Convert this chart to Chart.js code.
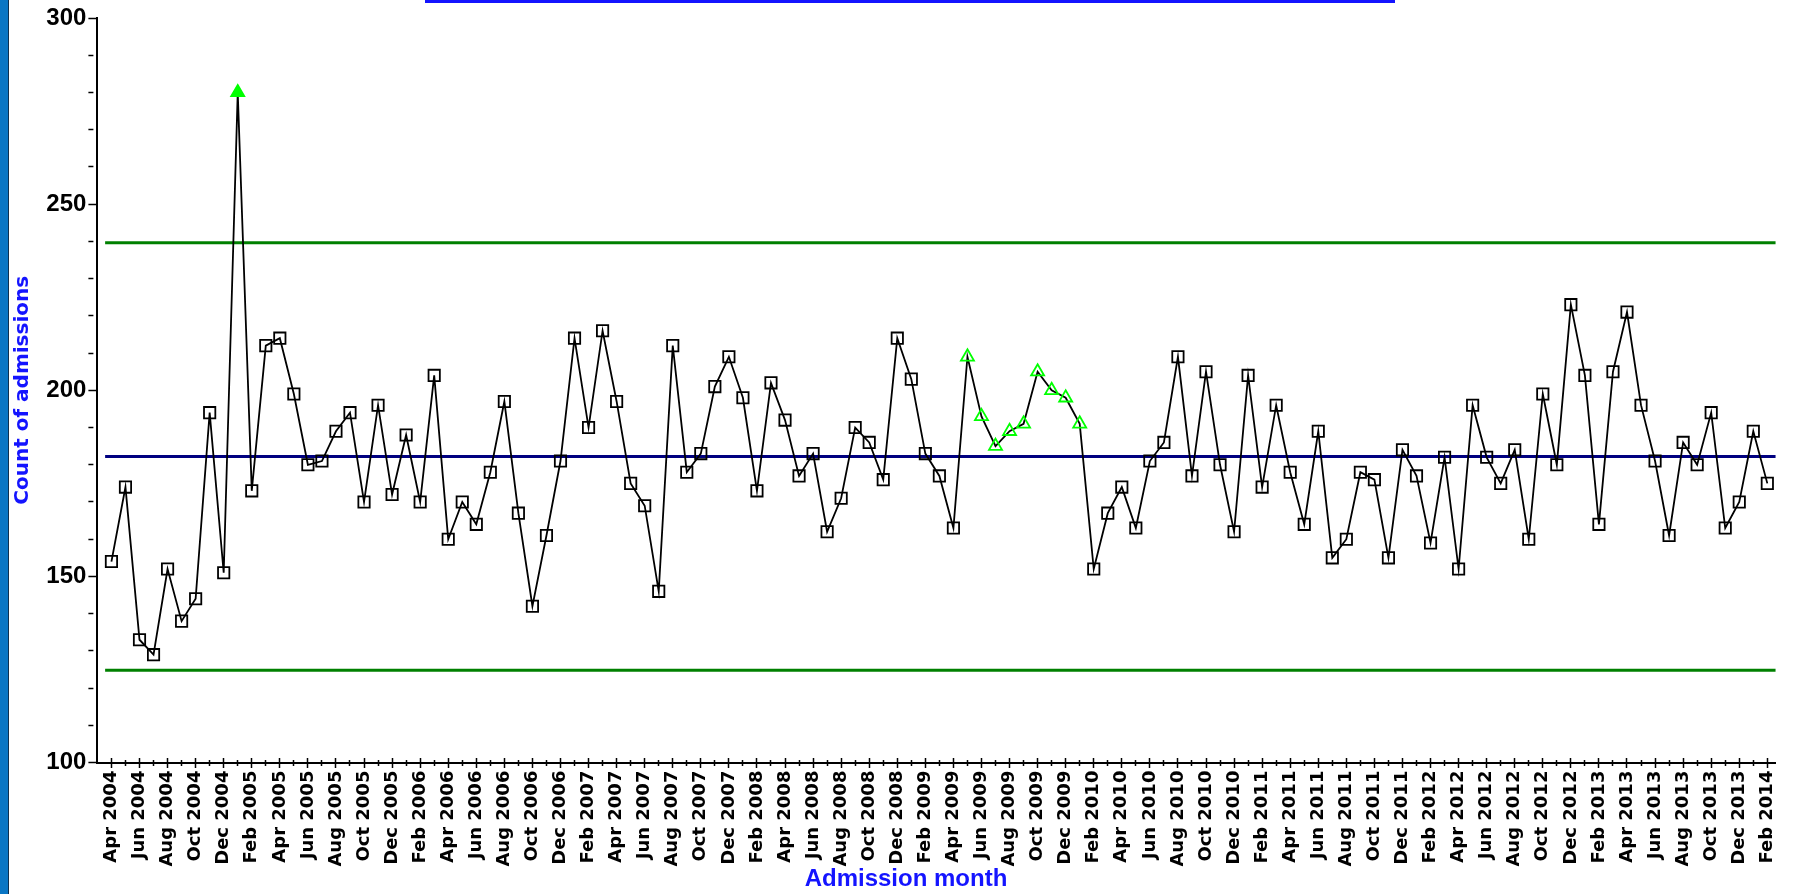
<!DOCTYPE html>
<html>
<head>
<meta charset="utf-8">
<title>Count of admissions by month</title>
<script src="https://cdn.jsdelivr.net/npm/chart.js@4.4.1/dist/chart.umd.min.js"></script>
<style>
  html, body { margin: 0; padding: 0; background: #ffffff; overflow: hidden; }
  #wrap { position: relative; width: 1797px; height: 894px; }
  #chart { position: absolute; left: 0; top: 0; }
  #edge { position: absolute; left: 0; top: 0; width: 8px; height: 894px; background: #0a76c4; border-right: 1px solid #0d2f4f; }
  #cap { position: absolute; left: 425px; top: 0; width: 970px; height: 3px; background: #1414ff; }
</style>
</head>
<body>
<div id="wrap">
  <canvas id="chart" width="1797" height="894"></canvas>
  <div id="edge"></div>
  <div id="cap"></div>
</div>
<script>
// Admission months (one point per month)
const months = [
  'Apr 2004', 'May 2004', 'Jun 2004', 'Jul 2004', 'Aug 2004', 'Sep 2004', 'Oct 2004', 'Nov 2004', 'Dec 2004',
  'Jan 2005', 'Feb 2005', 'Mar 2005', 'Apr 2005', 'May 2005', 'Jun 2005', 'Jul 2005', 'Aug 2005', 'Sep 2005', 'Oct 2005', 'Nov 2005', 'Dec 2005',
  'Jan 2006', 'Feb 2006', 'Mar 2006', 'Apr 2006', 'May 2006', 'Jun 2006', 'Jul 2006', 'Aug 2006', 'Sep 2006', 'Oct 2006', 'Nov 2006', 'Dec 2006',
  'Jan 2007', 'Feb 2007', 'Mar 2007', 'Apr 2007', 'May 2007', 'Jun 2007', 'Jul 2007', 'Aug 2007', 'Sep 2007', 'Oct 2007', 'Nov 2007', 'Dec 2007',
  'Jan 2008', 'Feb 2008', 'Mar 2008', 'Apr 2008', 'May 2008', 'Jun 2008', 'Jul 2008', 'Aug 2008', 'Sep 2008', 'Oct 2008', 'Nov 2008', 'Dec 2008',
  'Jan 2009', 'Feb 2009', 'Mar 2009', 'Apr 2009', 'May 2009', 'Jun 2009', 'Jul 2009', 'Aug 2009', 'Sep 2009', 'Oct 2009', 'Nov 2009', 'Dec 2009',
  'Jan 2010', 'Feb 2010', 'Mar 2010', 'Apr 2010', 'May 2010', 'Jun 2010', 'Jul 2010', 'Aug 2010', 'Sep 2010', 'Oct 2010', 'Nov 2010', 'Dec 2010',
  'Jan 2011', 'Feb 2011', 'Mar 2011', 'Apr 2011', 'May 2011', 'Jun 2011', 'Jul 2011', 'Aug 2011', 'Sep 2011', 'Oct 2011', 'Nov 2011', 'Dec 2011',
  'Jan 2012', 'Feb 2012', 'Mar 2012', 'Apr 2012', 'May 2012', 'Jun 2012', 'Jul 2012', 'Aug 2012', 'Sep 2012', 'Oct 2012', 'Nov 2012', 'Dec 2012',
  'Jan 2013', 'Feb 2013', 'Mar 2013', 'Apr 2013', 'May 2013', 'Jun 2013', 'Jul 2013', 'Aug 2013', 'Sep 2013', 'Oct 2013', 'Nov 2013', 'Dec 2013',
  'Jan 2014', 'Feb 2014'
];

// Monthly count of admissions
const admissions = [
  154, 174, 133, 129, 152, 138, 144, 194, 151,
  280, 173, 212, 214, 199, 180, 181, 189, 194, 170, 196, 172,
  188, 170, 204, 160, 170, 164, 178, 197, 167, 142, 161, 181,
  214, 190, 216, 197, 175, 169, 146, 212, 178, 183, 201, 209,
  198, 173, 202, 192, 177, 183, 162, 171, 190, 186, 176, 214,
  203, 183, 177, 163, 209, 193, 185, 189, 191, 205, 200, 198,
  191, 152, 167, 174, 163, 181, 186, 209, 177, 205, 180, 162,
  204, 174, 196, 178, 164, 189, 155, 160, 178, 176, 155, 184,
  177, 159, 182, 152, 196, 182, 175, 184, 160, 199, 180, 223,
  204, 164, 205, 221, 196, 181, 161, 186, 180, 194, 163, 170,
  189, 175
];

// Control chart lines
const centreLine = 182.2;
const upperLimit = 239.6;
const lowerLimit = 124.8;

// Special-cause signals: point beyond a limit, and a run of points above the centre line
const outlierSignal = [9];
const runSignal = [61, 62, 63, 64, 65, 66, 67, 68, 69];

// Labelled values on the count axis
const yLabels = [100, 150, 200, 250, 300];

const ARIAL = "'Liberation Sans', Arial, sans-serif";
const WIDE = "'DejaVu Sans', 'Liberation Sans', sans-serif";
const SIGNAL_GREEN = '#00ff00';
const AXIS_BLUE = '#1414ff';

const X_MIN = -1;
const X_MAX = 118.6;
const LINE_START = -0.45;

const isSignal = i => outlierSignal.includes(i) || runSignal.includes(i);

const seriesPoints = admissions.map((v, i) => ({ x: i, y: v }));
const limitLine = value => [{ x: LINE_START, y: value }, { x: X_MAX, y: value }];
const monthTicks = scale => { scale.ticks = months.map((m, i) => ({ value: i })); };

new Chart(document.getElementById('chart'), {
  type: 'line',
  data: {
    datasets: [
      {
        label: 'Count of admissions',
        data: seriesPoints,
        xAxisID: 'x',
        yAxisID: 'y',
        borderColor: '#000000',
        borderWidth: 1.8,
        tension: 0,
        fill: false,
        pointStyle: admissions.map((v, i) => isSignal(i) ? 'triangle' : 'rect'),
        pointRadius: admissions.map((v, i) => isSignal(i) ? 7.5 : 8),
        pointBorderWidth: 1.8,
        pointBorderColor: admissions.map((v, i) => isSignal(i) ? SIGNAL_GREEN : '#000000'),
        pointBackgroundColor: admissions.map((v, i) => outlierSignal.includes(i) ? SIGNAL_GREEN : 'rgba(0,0,0,0)')
      },
      {
        label: 'Centre line',
        data: limitLine(centreLine),
        xAxisID: 'x',
        yAxisID: 'y',
        borderColor: '#000080',
        borderWidth: 3,
        pointRadius: 0,
        fill: false
      },
      {
        label: 'Upper control limit',
        data: limitLine(upperLimit),
        xAxisID: 'x',
        yAxisID: 'y',
        borderColor: '#008000',
        borderWidth: 3,
        pointRadius: 0,
        fill: false
      },
      {
        label: 'Lower control limit',
        data: limitLine(lowerLimit),
        xAxisID: 'x',
        yAxisID: 'y',
        borderColor: '#008000',
        borderWidth: 3,
        pointRadius: 0,
        fill: false
      }
    ]
  },
  options: {
    responsive: false,
    animation: false,
    devicePixelRatio: 1,
    layout: { padding: { left: 30, right: 15, top: 18, bottom: 0 } },
    plugins: {
      legend: { display: false },
      tooltip: { enabled: false },
      title: {
        display: true,
        position: 'bottom',
        align: 'center',
        text: 'Admission month',
        color: AXIS_BLUE,
        font: { family: ARIAL, size: 24, weight: 'bold', lineHeight: 1.1 },
        padding: { top: 0, bottom: 1 }
      }
    },
    scales: {
      x: {
        type: 'linear',
        axis: 'x',
        position: 'bottom',
        min: X_MIN,
        max: X_MAX,
        afterBuildTicks: monthTicks,
        afterFit: s => { s.height = 104; },
        border: { display: true, color: '#000000', width: 2 },
        grid: { display: true, drawOnChartArea: false, drawTicks: false },
        ticks: {
          autoSkip: false,
          minRotation: 90,
          maxRotation: 90,
          padding: 8,
          color: '#000000',
          font: { family: WIDE, size: 18, weight: 'bold' },
          callback: v => (v % 2 === 0 ? months[v] : '')
        }
      },
      // tick marks that cross the month axis line
      xt: {
        type: 'linear',
        axis: 'x',
        position: { y: 101.35 },
        min: X_MIN,
        max: X_MAX,
        afterBuildTicks: monthTicks,
        border: { display: false },
        ticks: { display: false },
        grid: {
          display: true,
          drawOnChartArea: false,
          drawTicks: true,
          tickLength: 10,
          tickWidth: 1.5,
          tickColor: '#000000',
          tickBorderDash: ctx => (ctx.tick && ctx.tick.value % 2 === 0 ? [] : [0, 2, 6, 20])
        }
      },
      y: {
        type: 'linear',
        position: 'left',
        min: 100,
        max: 300,
        afterFit: s => { s.width = 67.4; },
        border: { display: true, color: '#000000', width: 2 },
        grid: {
          display: true,
          drawOnChartArea: false,
          drawTicks: true,
          tickLength: 9,
          tickWidth: 1.5,
          tickColor: '#000000',
          tickBorderDash: ctx => (ctx.tick && yLabels.includes(ctx.tick.value) ? [] : [5, 20])
        },
        ticks: {
          stepSize: 10,
          padding: 2,
          color: '#000000',
          font: { family: ARIAL, size: 24, weight: 'bold' },
          callback: v => (yLabels.includes(v) ? String(v) : '')
        },
        title: {
          display: true,
          text: 'Count of admissions',
          color: AXIS_BLUE,
          font: { family: WIDE, size: 20, weight: 'bold', lineHeight: 1 },
          padding: { top: -17, bottom: 0 }
        }
      }
    }
  }
});
</script>
</body>
</html>
